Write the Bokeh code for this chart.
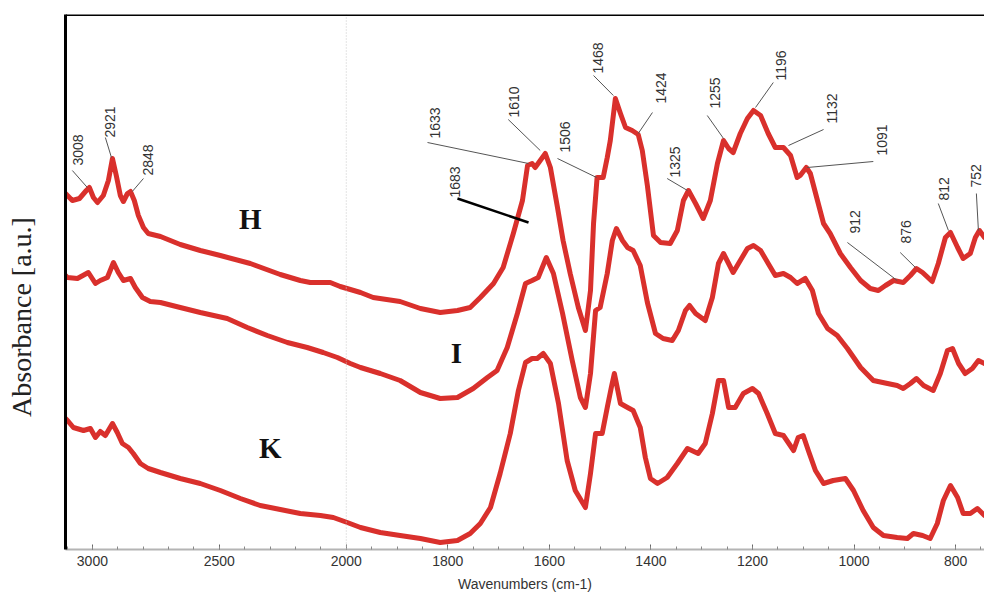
import numpy as np
from bokeh.plotting import figure
from bokeh.models import Range1d, FixedTicker, Span
from bokeh.core.properties import value
from bokeh.embed import file_html
from bokeh.resources import INLINE

# ---------------- data (wavenumber cm-1, absorbance a.u.) ----------------
H_wn = [3106,3079,3051,3024,3012,2996,2980,2957,2937,2921,2906,2890,2878,2862,2850,2835,2819,2799,2780,2732,
        2654,2575,2496,2378,2260,2181,2142,2063,2024,1972,1947,1894,1854,1815,1781,1756,1736,1710,1691,1671,
        1653,1643,1634,1628,1618,1608,1598,1584,1573,1559,1543,1529,1519,1513,1506,1494,1486,1480,1470,1460,
        1450,1437,1425,1417,1407,1395,1381,1362,1348,1336,1326,1312,1297,1283,1269,1257,1247,1238,1224,1210,
        1198,1184,1169,1155,1139,1125,1112,1106,1094,1086,1072,1060,1047,1027,1007,987,968,952,938,922,
        903,889,877,865,846,834,820,810,796,785,771,761,753,743]
H_abs = [3.56,3.49,3.51,3.59,3.62,3.52,3.47,3.54,3.69,3.91,3.74,3.54,3.48,3.56,3.58,3.49,3.34,3.22,3.16,3.13,
         3.05,2.99,2.94,2.86,2.75,2.69,2.67,2.67,2.63,2.57,2.52,2.48,2.41,2.37,2.39,2.42,2.52,2.66,2.82,3.16,
         3.49,3.84,3.86,3.82,3.89,3.96,3.82,3.42,3.09,2.76,2.42,2.19,2.59,3.26,3.72,3.72,3.92,4.09,4.51,4.36,
         4.22,4.19,4.15,3.99,3.64,3.14,3.07,3.06,3.19,3.49,3.59,3.46,3.31,3.49,3.86,4.09,4.01,3.97,4.16,4.31,
         4.39,4.34,4.16,4.02,4.02,3.94,3.72,3.74,3.82,3.76,3.49,3.26,3.16,2.96,2.82,2.69,2.61,2.59,2.64,2.69,
         2.67,2.74,2.81,2.77,2.68,2.86,3.12,3.17,3.02,2.91,2.96,3.12,3.19,3.12]

I_wn = [3106,3098,3059,3016,2988,2969,2941,2917,2898,2878,2850,2831,2803,2772,2732,2654,2575,2469,2390,2311,
        2232,2154,2091,2035,1992,1972,1933,1894,1854,1815,1781,1750,1722,1703,1683,1663,1647,1634,1622,1606,
        1592,1574,1555,1539,1529,1519,1509,1500,1486,1476,1468,1456,1446,1435,1421,1407,1391,1376,1358,1346,
        1332,1324,1312,1293,1279,1267,1257,1247,1238,1224,1210,1198,1184,1169,1155,1139,1125,1112,1096,1082,
        1070,1052,1033,1013,987,962,934,915,903,889,877,863,844,830,816,806,794,781,767,755,743]
I_abs = [2.74,2.72,2.71,2.77,2.66,2.69,2.72,2.87,2.77,2.69,2.71,2.62,2.52,2.48,2.47,2.42,2.37,2.31,2.22,2.14,
         2.07,2.02,1.97,1.92,1.86,1.82,1.76,1.69,1.57,1.51,1.52,1.61,1.72,1.79,2.02,2.36,2.66,2.69,2.72,2.92,
         2.76,2.36,1.89,1.52,1.42,1.76,2.39,2.42,2.76,3.09,3.21,3.09,3.02,2.99,2.84,2.47,2.16,2.11,2.09,2.19,
         2.39,2.44,2.36,2.29,2.52,2.86,2.96,2.86,2.77,2.89,3.01,3.04,2.99,2.86,2.74,2.76,2.72,2.66,2.71,2.59,
         2.36,2.21,2.14,2.01,1.82,1.69,1.66,1.64,1.61,1.66,1.71,1.64,1.59,1.76,1.99,2.01,1.86,1.76,1.81,1.89,1.86]

K_wn = [3106,3098,3075,3035,3008,2988,2969,2949,2921,2902,2882,2858,2839,2811,2780,2732,2654,2575,2496,2417,
        2339,2260,2181,2102,2051,1998,1972,1933,1894,1854,1815,1781,1756,1736,1716,1697,1677,1661,1647,1634,
        1624,1612,1598,1582,1565,1549,1529,1519,1509,1496,1486,1478,1472,1460,1446,1435,1421,1411,1401,1387,
        1368,1348,1328,1307,1293,1279,1267,1257,1247,1234,1218,1200,1188,1171,1155,1139,1119,1110,1100,1090,
        1076,1060,1041,1017,1001,982,962,942,915,895,883,865,850,836,824,810,796,785,771,757,743]
K_abs = [1.31,1.29,1.22,1.19,1.21,1.12,1.18,1.14,1.26,1.17,1.06,1.02,0.96,0.86,0.81,0.77,0.71,0.66,0.59,0.51,
         0.44,0.40,0.36,0.34,0.32,0.27,0.22,0.17,0.14,0.11,0.07,0.09,0.16,0.26,0.42,0.76,1.16,1.59,1.87,1.91,
         1.91,1.96,1.86,1.46,0.89,0.59,0.42,0.76,1.16,1.16,1.42,1.62,1.76,1.46,1.42,1.39,1.22,0.92,0.71,0.66,
         0.72,0.86,1.01,0.96,1.06,1.36,1.69,1.69,1.42,1.42,1.56,1.61,1.56,1.36,1.16,1.14,0.99,1.12,1.14,0.99,
         0.79,0.66,0.69,0.71,0.59,0.39,0.22,0.14,0.12,0.11,0.16,0.14,0.11,0.26,0.49,0.64,0.52,0.36,0.36,0.41,0.34]

# peak annotations (label text, label anchor, leader line start -> end)
peak_labels = ["3008","2921","2848","1633","1610","1506","1468","1424","1325",
               "1255","1196","1132","1091","912","876","812","752"]
label_wn  = [3055,2929,2780,1825,1669,1569,1504,1381,1352,1273,1143,1043,944,999,897,822,760]
label_abs = [3.84,4.12,3.74,4.11,4.32,3.97,4.76,4.46,3.72,4.41,4.69,4.26,3.94,3.16,3.06,3.49,3.62]
lead_wn0  = [3079,2949,2799,1840,1681,1584,1513,1397,1368,1289,1159,1060,962,1013,909,834,759]
lead_abs0 = [3.79,4.12,3.71,4.07,4.30,3.91,4.74,4.37,3.71,4.34,4.67,4.20,3.88,3.07,2.97,3.46,3.56]
lead_wn1  = [3020,2925,2843,1641,1618,1507,1474,1425,1328,1257,1194,1129,1092,915,879,814,755]
lead_abs1 = [3.62,3.92,3.58,3.86,3.99,3.72,4.54,4.16,3.59,4.11,4.42,4.04,3.82,2.69,2.82,3.19,3.19]

mark_label = "1683"
mark_pos = (1785, 3.52)
mark_line = ((1781, 3.51), (1641, 3.27))

sample_names = ["H", "I", "K"]
sample_wn = [2378, 1783, 2299]
sample_abs = [3.31, 1.97, 1.02]

tick_wn = [3000, 2500, 2000, 1800, 1600, 1400, 1200, 1000, 800]
WN_MAX, WN_MIN = 3106, 743
Y_MIN, Y_MAX = 0.0, 5.35

# axis is compressed 2x above 2000 cm-1
def to_u(wn):
    wn = np.asarray(wn, dtype=float)
    return np.where(wn > 2000, 2000 + (wn - 2000) / 2.0, wn)

RED = "#d9302c"
SANS = "Liberation Sans"
SERIF = "Liberation Serif"

p = figure(width=984, height=595, output_backend="svg", toolbar_location=None,
           x_range=Range1d(float(to_u(WN_MAX)), float(to_u(WN_MIN))),
           y_range=Range1d(Y_MIN, Y_MAX),
           min_border_left=65, min_border_right=0, min_border_top=14, min_border_bottom=46)
p.outline_line_color = None
p.xgrid.visible = False
p.ygrid.visible = False

ya = p.yaxis[0]
ya.ticker = FixedTicker(ticks=[])
ya.major_label_text_font_size = "0px"
ya.major_tick_in = 0
ya.major_tick_out = 0
ya.minor_tick_in = 0
ya.minor_tick_out = 0
ya.axis_line_color = "black"
ya.axis_line_width = 3
# title sits below the frame centre in the original; non-breaking spaces push it down
ya.axis_label = "Absorbance [a.u.]" + "\u00a0" * 10
ya.axis_label_text_font = SERIF
ya.axis_label_text_font_style = "normal"
ya.axis_label_text_font_size = "28px"
ya.axis_label_text_color = "#222222"
ya.axis_label_standoff = 29

u_ticks = [float(v) for v in to_u(tick_wn)]
minor = list(np.arange(750, 2551, 50).astype(float))
xa = p.xaxis[0]
xa.ticker = FixedTicker(ticks=u_ticks, minor_ticks=minor)
xa.major_label_overrides = {u: str(w) for u, w in zip(u_ticks, tick_wn)}
xa.axis_line_color = "#b4b4b4"
xa.axis_line_width = 2
xa.major_tick_in = 5
xa.major_tick_out = 0
xa.minor_tick_in = 3
xa.minor_tick_out = 0
xa.major_tick_line_color = "#666666"
xa.minor_tick_line_color = "#888888"
xa.major_label_text_font = SANS
xa.major_label_text_font_size = "14px"
xa.major_label_text_color = "#333333"
xa.major_label_standoff = 6
xa.axis_label = "Wavenumbers (cm-1)"
xa.axis_label_text_font = SANS
xa.axis_label_text_font_style = "normal"
xa.axis_label_text_font_size = "14px"
xa.axis_label_text_color = "#333333"
xa.axis_label_standoff = 7

# dotted separator at 2000 cm-1
p.add_layout(Span(location=2000, dimension="height", line_color="#c8c8c8",
                  line_dash="1 2", line_width=1))
# top frame border
p.add_layout(Span(location=Y_MAX, dimension="width", line_color="black", line_width=3))

# spectra
for wn, ab in ((H_wn, H_abs), (I_wn, I_abs), (K_wn, K_abs)):
    p.line(to_u(wn), ab, line_color=RED, line_width=5, line_join="round", line_cap="round")

# leader lines + peak labels
p.segment(x0=to_u(lead_wn0), y0=lead_abs0, x1=to_u(lead_wn1), y1=lead_abs1,
          line_color="#555555", line_width=1)
p.text(x=to_u(label_wn), y=label_abs, text=peak_labels, angle=np.pi / 2,
       text_align="left", text_baseline="middle", text_font=value(SANS),
       text_font_size="14px", text_color="#333333")

p.segment(x0=[float(to_u(mark_line[0][0]))], y0=[mark_line[0][1]],
          x1=[float(to_u(mark_line[1][0]))], y1=[mark_line[1][1]],
          line_color="black", line_width=2.5)
p.text(x=[float(to_u(mark_pos[0]))], y=[mark_pos[1]], text=[mark_label], angle=np.pi / 2,
       text_align="left", text_baseline="middle", text_font=value(SANS),
       text_font_size="14px", text_color="#333333")

# sample letters
p.text(x=to_u(sample_wn), y=sample_abs, text=sample_names, text_align="center",
       text_baseline="middle", text_font=value(SERIF), text_font_style="bold",
       text_font_size="29px", text_color="#111111")

open("out.html", "w").write(file_html(p, INLINE))
